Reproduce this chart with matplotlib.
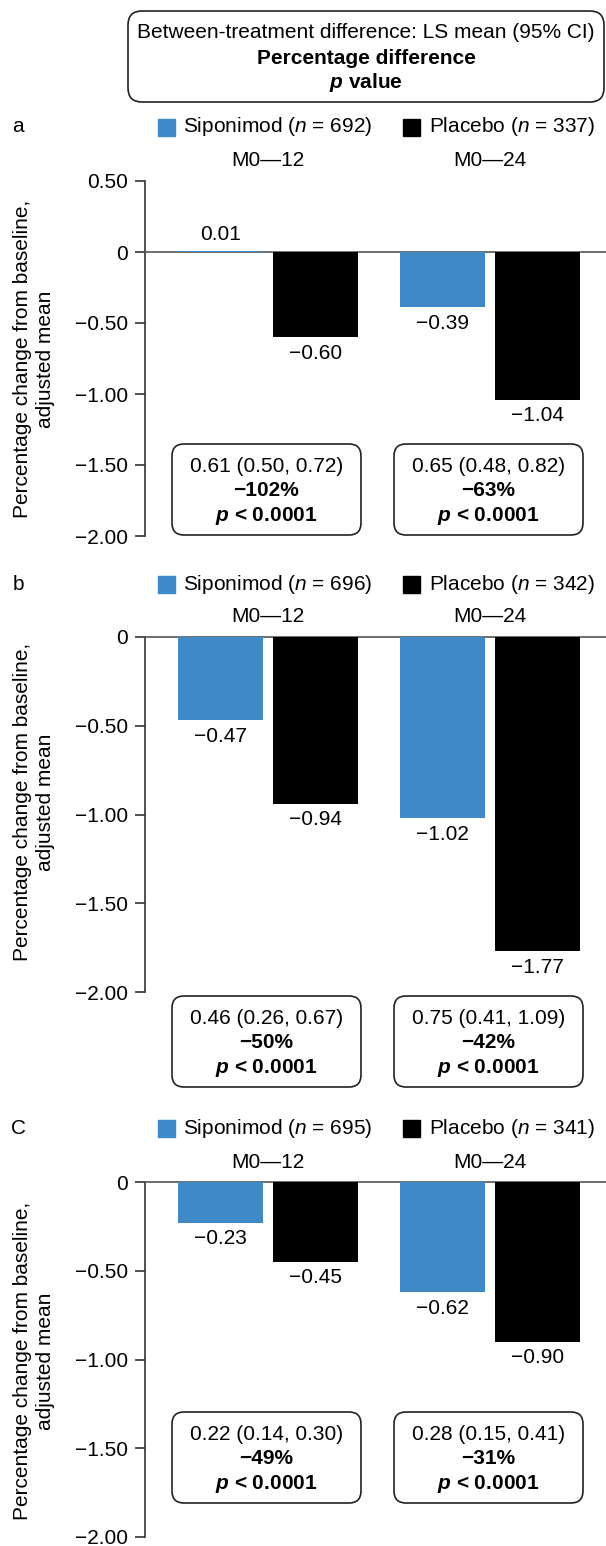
import numpy as np
import matplotlib
matplotlib.use("Agg")
import matplotlib.pyplot as plt
from matplotlib.patches import FancyBboxPatch, Rectangle
from matplotlib.ticker import FuncFormatter

plt.rcParams['font.family'] = ['Liberation Sans', 'DejaVu Sans']
plt.rcParams['mathtext.fontset'] = 'custom'
plt.rcParams['mathtext.rm'] = 'Liberation Sans'
plt.rcParams['mathtext.it'] = 'Liberation Sans:italic'
plt.rcParams['mathtext.bf'] = 'Liberation Sans:bold'
plt.rcParams['mathtext.bfit'] = 'Liberation Sans:bold:italic'

# Data
periods = ['M0—12', 'M0—24']
panel_letters = ['a', 'b', 'C']
n_siponimod = [692, 696, 695]
n_placebo = [337, 342, 341]
siponimod_mean = [[0.01, -0.39], [-0.47, -1.02], [-0.23, -0.62]]
placebo_mean = [[-0.60, -1.04], [-0.94, -1.77], [-0.45, -0.90]]
ls_mean_ci = [['0.61 (0.50, 0.72)', '0.65 (0.48, 0.82)'],
              ['0.46 (0.26, 0.67)', '0.75 (0.41, 1.09)'],
              ['0.22 (0.14, 0.30)', '0.28 (0.15, 0.41)']]
pct_diff = [['−102%', '−63%'], ['−50%', '−42%'], ['−49%', '−31%']]
p_values = [['< 0.0001', '< 0.0001']] * 3
y_ticks = [[0.5, 0, -0.5, -1.0, -1.5, -2.0],
           [0, -0.5, -1.0, -1.5, -2.0],
           [0, -0.5, -1.0, -1.5, -2.0]]

BLUE = '#4089c7'
FS = 15
W, H = 606, 1546

fig = plt.figure(figsize=(W / 100, H / 100), dpi=100)

# layout in pixels: (axis top, axis bottom, ylim top)
layout = [(181, 536, 0.5), (637, 992, 0.0), (1182, 1537, 0.0)]
legend_y = [127, 584, 1128]
ylabel_y = [359, 802, 1361]
box_top = [444, 996, 1412]

ax_left, ax_right = 145, 606
grp_px = [268, 490]           # pixel centres of the two groups
unit = grp_px[1] - grp_px[0]
bar_w = 85 / unit
off = 47.5 / unit


def fmt_val(v):
    return f"{v:.2f}".replace('-', '−')


def fmt_tick(v, pos):
    if v == 0:
        return '0'
    return f"{v:.2f}".replace('-', '−')


axes = []
for i, (top, bot, ytop) in enumerate(layout):
    ax = fig.add_axes([ax_left / W, 1 - bot / H, (ax_right - ax_left) / W, (bot - top) / H])
    ax.set_facecolor('none')
    x = np.arange(len(periods))
    ax.bar(x - off, siponimod_mean[i], width=bar_w, color=BLUE, zorder=5)
    ax.bar(x + off, placebo_mean[i], width=bar_w, color='black', zorder=5)
    ax.set_xlim((ax_left - grp_px[0]) / unit, (ax_right - grp_px[0]) / unit)
    ax.set_ylim(-2.0, ytop)
    ax.axhline(0, color='#555555', lw=1.2, zorder=4, clip_on=False)

    for xi, s, p in zip(x, siponimod_mean[i], placebo_mean[i]):
        for xx, v in ((xi - off, s), (xi + off, p)):
            ax.annotate(fmt_val(v), (xx, v), xytext=(0, -16 if v < 0 else 16),
                        textcoords='offset pixels', ha='center', va='center',
                        fontsize=FS, annotation_clip=False)
        ax.annotate(periods[xi], (xi, ytop), xytext=(0, 20),
                    textcoords='offset pixels', ha='center', va='center',
                    fontsize=FS, annotation_clip=False)

    for s in ('top', 'right', 'bottom'):
        ax.spines[s].set_visible(False)
    ax.spines['left'].set_color('#333333')
    ax.spines['left'].set_linewidth(1.2)
    ax.set_xticks([])
    ax.set_yticks(y_ticks[i])
    ax.yaxis.set_major_formatter(FuncFormatter(fmt_tick))
    ax.tick_params(axis='y', length=7, width=1.2, color='#333333', pad=5, labelsize=FS)
    axes.append(ax)

# overlay in pixel coordinates for legends, boxes and labels
ov = fig.add_axes([0, 0, 1, 1])
ov.set_xlim(0, W)
ov.set_ylim(H, 0)
ov.axis('off')


def rbox(x0, y0, w, h, r=12):
    ov.add_patch(FancyBboxPatch((x0, y0), w, h, boxstyle=f"round,pad=0,rounding_size={r}",
                                fc='white', ec='#222222', lw=1.2, mutation_aspect=1))


# header box
rbox(128, 11, 476, 91, r=14)
ov.text(366, 33, 'Between-treatment difference: LS mean (95% CI)', ha='center', va='center', fontsize=FS)
ov.text(366, 58, 'Percentage difference', ha='center', va='center', fontsize=FS, fontweight='bold')
ov.text(366, 83, r'$\mathbfit{p}$ value', ha='center', va='center', fontsize=FS, fontweight='bold')

box_x = [172, 394]
box_w, box_h = 189, 91
for i in range(3):
    ly = legend_y[i]
    ov.text(18, ly, panel_letters[i], ha='center', va='center', fontsize=FS)
    ov.add_patch(Rectangle((158, ly - 8.5), 17, 17, color=BLUE))
    ov.text(183, ly, rf'Siponimod ($\mathit{{n}}$ = {n_siponimod[i]})', ha='left', va='center', fontsize=FS)
    ov.add_patch(Rectangle((403, ly - 8.5), 17, 17, color='black'))
    ov.text(429, ly, rf'Placebo ($\mathit{{n}}$ = {n_placebo[i]})', ha='left', va='center', fontsize=FS)

    ov.text(34, ylabel_y[i], 'Percentage change from baseline,\nadjusted mean', rotation=90,
            ha='center', va='center', multialignment='center', fontsize=FS, linespacing=1.25)

    for j in range(2):
        bx, by = box_x[j], box_top[i]
        rbox(bx, by, box_w, box_h)
        cx = bx + box_w / 2
        ov.text(cx, by + 22, ls_mean_ci[i][j], ha='center', va='center', fontsize=FS)
        ov.text(cx, by + 47, pct_diff[i][j], ha='center', va='center', fontsize=FS, fontweight='bold')
        ov.text(cx, by + 72, rf'$\mathbfit{{p}}$ {p_values[i][j]}', ha='center', va='center',
                fontsize=FS, fontweight='bold')

fig.savefig('out.png', dpi=100)
